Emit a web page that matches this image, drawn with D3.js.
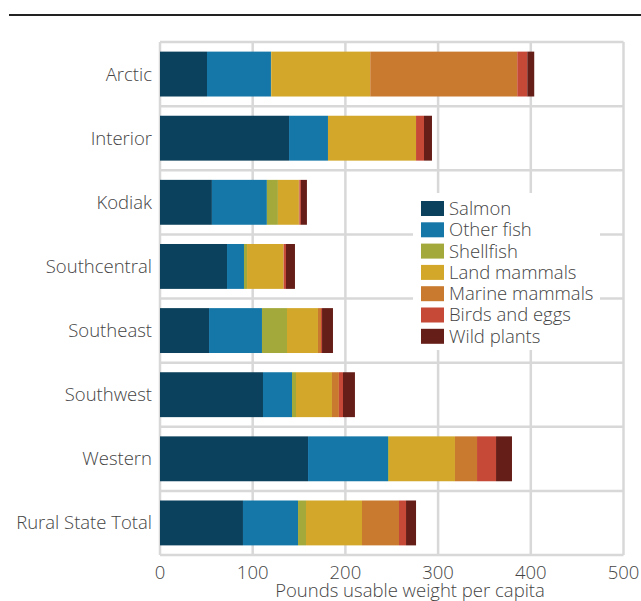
<!DOCTYPE html>
<html><head><meta charset="utf-8">
<script src="https://cdn.jsdelivr.net/npm/d3@7"></script>
<style>
html,body{margin:0;padding:0;background:#fff;}
svg{display:block;}
text{font-family:"Open Sans",sans-serif;font-weight:300;fill:#444;}
</style></head>
<body>
<svg id="chart" width="641" height="601"></svg>
<script>
const regions = ["Arctic","Interior","Kodiak","Southcentral","Southeast","Southwest","Western","Rural State Total"];
const seriesNames = ["Salmon","Other fish","Shellfish","Land mammals","Marine mammals","Birds and eggs","Wild plants"];
const salmon       = [50.7, 139.2, 56, 72.3, 52.9, 111.1, 159.7, 89.5];
const otherFish    = [69, 42, 59.3, 18.3, 57.1, 31.3, 86.3, 59.4];
const shellfish    = [0.3, 0, 11.9, 3.3, 27, 4.3, 1, 8.6];
const landMammals  = [106.8, 95, 22.6, 39.1, 33.4, 38.8, 71.2, 60.4];
const marineMammals= [158.6, 0, 0.6, 0.6, 3.3, 7.5, 23.8, 39.9];
const birdsEggs    = [10.8, 8.6, 1.6, 2.3, 1.1, 4.4, 20.5, 7.6];
const wildPlants   = [7.5, 8.6, 6.5, 9.7, 11.8, 12.9, 17.2, 10.8];
const xTicks = [0,100,200,300,400,500];
const colors = ["#0b415c","#1477a8","#a3a93a","#d2a72a","#c97a2e","#c64837","#661f18"];

const seriesValues = [salmon, otherFish, shellfish, landMammals, marineMammals, birdsEggs, wildPlants];
const data = regions.map((r,i)=>{
  const o = {region:r};
  seriesNames.forEach((s,j)=>o[s]=seriesValues[j][i]);
  return o;
});

(function(){
const svg = d3.select("#chart");
const pL=160, pR=623.5, pT=42, pB=555;
const fs = 18.5;
const x = d3.scaleLinear().domain([0,500]).range([pL,pR]);
const y = d3.scaleBand().domain(regions).range([pT,pB]).paddingInner(0.3).paddingOuter(0.15);

svg.append("line").attr("x1",9).attr("x2",641).attr("y1",15).attr("y2",15)
  .attr("stroke","#222").attr("stroke-width",2);

const gridColor="#d8d8d8";
svg.append("g").selectAll("line").data(xTicks).join("line")
  .attr("x1",d=>x(d)).attr("x2",d=>x(d)).attr("y1",pT).attr("y2",pB)
  .attr("stroke",gridColor).attr("stroke-width",2.5);
const bounds = regions.map(r=>y(r)-y.step()*y.paddingInner()/2).slice(1);
bounds.unshift(pT); bounds.push(pB);
svg.append("g").selectAll("line").data(bounds).join("line")
  .attr("x1",pL).attr("x2",pR).attr("y1",d=>d).attr("y2",d=>d)
  .attr("stroke",gridColor).attr("stroke-width",2.5);

const stack = d3.stack().keys(seriesNames)(data);
svg.append("g").selectAll("g").data(stack).join("g")
  .attr("fill",(d,i)=>colors[i])
  .selectAll("rect").data(d=>d).join("rect")
  .attr("x",d=>x(d[0])).attr("width",d=>Math.max(0,x(d[1])-x(d[0])))
  .attr("y",d=>y(d.data.region)).attr("height",y.bandwidth());

svg.append("g").selectAll("text").data(regions).join("text")
  .attr("x",pL-8).attr("y",d=>y(d)+y.bandwidth()/2).attr("dy","0.35em")
  .attr("text-anchor","end").attr("font-size",fs).text(d=>d);

svg.append("g").selectAll("text").data(xTicks).join("text")
  .attr("x",d=>x(d)).attr("y",579).attr("text-anchor","middle").attr("font-size",fs).text(d=>d);
svg.append("text").attr("x",410).attr("y",597).attr("text-anchor","middle")
  .attr("font-size",fs).text("Pounds usable weight per capita");

const lg = svg.append("g");
lg.append("rect").attr("x",413).attr("y",193).attr("width",187).attr("height",157).attr("fill","#fff");
seriesNames.forEach((s,i)=>{
  const yy = 201 + i*21.3;
  lg.append("rect").attr("x",421).attr("y",yy).attr("width",23).attr("height",15).attr("fill",colors[i]);
  lg.append("text").attr("x",449).attr("y",yy+7.5).attr("dy","0.35em").attr("font-size",fs).text(s);
});
})();
</script>
</body></html>
